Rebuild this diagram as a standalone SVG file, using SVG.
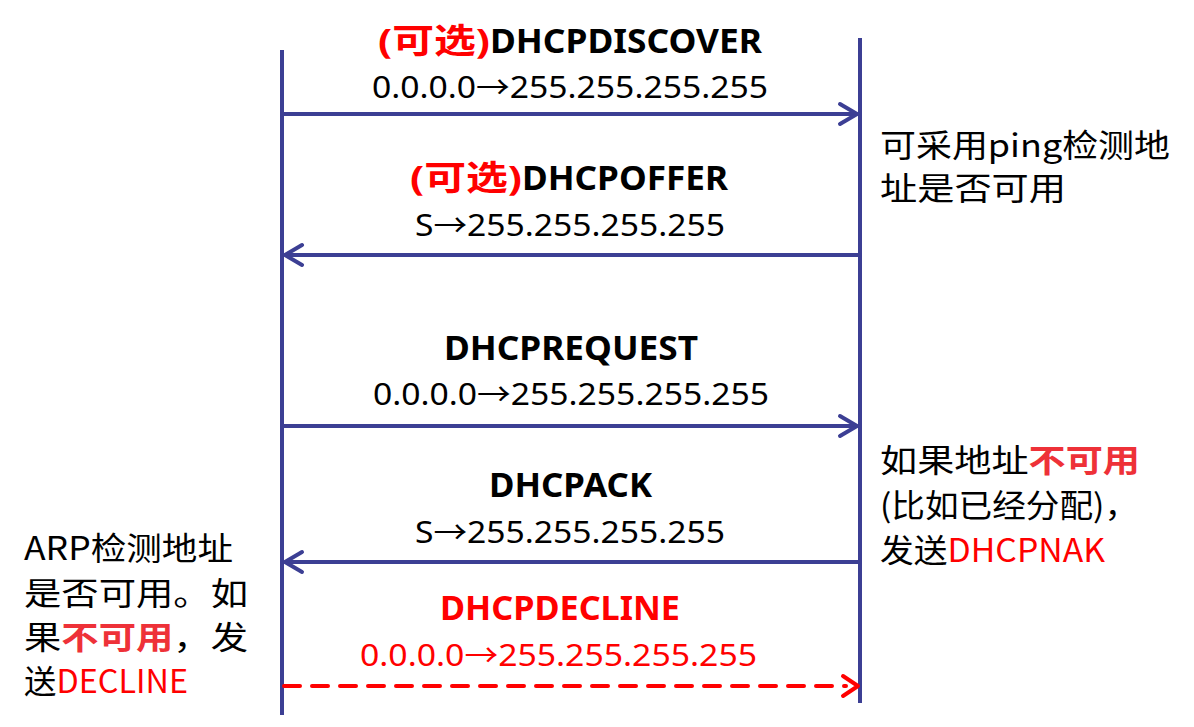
<svg xmlns="http://www.w3.org/2000/svg" width="1194" height="727" viewBox="0 0 1194 727">
<style>
.lbl{font-family:"Noto Sans","Noto Sans CJK SC",sans-serif;font-weight:bold;font-size:34px;fill:#000}
.addr{font-family:"Noto Sans","Noto Sans CJK SC",sans-serif;font-size:31px;fill:#000}
.note{font-family:"Noto Sans CJK SC","Noto Sans",sans-serif;font-size:32px;fill:#000}
.red{fill:#FF0000}
.red2{fill:#EE3138;font-weight:bold}
.life{stroke:#3C3F94;stroke-width:4;fill:none}
.msg{stroke:#3C3F94;stroke-width:4;fill:none;stroke-linecap:round;stroke-linejoin:round}
.dmsg{stroke:#FF0000;stroke-width:4;fill:none;stroke-linecap:round;stroke-linejoin:round}
</style>
<rect width="1194" height="727" fill="#fff"/>
<g id="lifelines">
<line class="life" x1="282" y1="50" x2="282" y2="715"/>
<line class="life" x1="860" y1="38" x2="860" y2="703"/>
</g>
<g id="connectors">
<line class="msg" x1="282" y1="114" x2="856" y2="114"/>
<polyline class="msg" points="840,104 857,114 840,124"/>
<line class="msg" x1="286" y1="255" x2="860" y2="255"/>
<polyline class="msg" points="302,245 285,255 302,265"/>
<line class="msg" x1="282" y1="426" x2="856" y2="426"/>
<polyline class="msg" points="840,416 857,426 840,436"/>
<line class="msg" x1="286" y1="562" x2="860" y2="562"/>
<polyline class="msg" points="302,552 285,562 302,572"/>
<line class="dmsg" x1="284" y1="686" x2="846" y2="686" stroke-dasharray="16 12" stroke-linecap="butt"/>
<polyline class="dmsg" points="843,676 858,686 843,696"/>
</g>
<g id="msg1">
<text class="lbl red" x="378" y="53" textLength="112" lengthAdjust="spacingAndGlyphs">(可选)</text>
<text class="lbl" x="490" y="53" textLength="272" lengthAdjust="spacingAndGlyphs">DHCPDISCOVER</text>
<text class="addr" x="372" y="98" textLength="396" lengthAdjust="spacingAndGlyphs">0.0.0.0→255.255.255.255</text>
</g>
<g id="msg2">
<text class="lbl red" x="410" y="190" textLength="112" lengthAdjust="spacingAndGlyphs">(可选)</text>
<text class="lbl" x="522" y="190" textLength="206" lengthAdjust="spacingAndGlyphs">DHCPOFFER</text>
<text class="addr" x="415" y="236" textLength="310" lengthAdjust="spacingAndGlyphs">S→255.255.255.255</text>
</g>
<g id="msg3">
<text class="lbl" x="444" y="360" textLength="254" lengthAdjust="spacingAndGlyphs">DHCPREQUEST</text>
<text class="addr" x="373" y="405" textLength="396" lengthAdjust="spacingAndGlyphs">0.0.0.0→255.255.255.255</text>
</g>
<g id="msg4">
<text class="lbl" x="489" y="497" textLength="163" lengthAdjust="spacingAndGlyphs">DHCPACK</text>
<text class="addr" x="415" y="543" textLength="310" lengthAdjust="spacingAndGlyphs">S→255.255.255.255</text>
</g>
<g id="msg5">
<text class="lbl red" x="440" y="620" textLength="240" lengthAdjust="spacingAndGlyphs">DHCPDECLINE</text>
<text class="addr red" x="360" y="666" textLength="397" lengthAdjust="spacingAndGlyphs">0.0.0.0→255.255.255.255</text>
</g>
<g id="note-ping">
<text class="note" x="880" y="157" textLength="290" lengthAdjust="spacingAndGlyphs">可采用ping检测地</text>
<text class="note" x="880" y="200" textLength="186" lengthAdjust="spacingAndGlyphs">址是否可用</text>
</g>
<g id="note-nak">
<text class="note" x="880" y="472" textLength="260" lengthAdjust="spacingAndGlyphs">如果地址<tspan class="red2">不可用</tspan></text>
<text class="note" x="880" y="517" textLength="258" lengthAdjust="spacingAndGlyphs">(比如已经分配)，</text>
<text class="note" x="880" y="562" textLength="225" lengthAdjust="spacingAndGlyphs">发送<tspan class="red">DHCPNAK</tspan></text>
</g>
<g id="note-arp">
<text class="note" x="24" y="560" textLength="209" lengthAdjust="spacingAndGlyphs">ARP检测地址</text>
<text class="note" x="24" y="605" textLength="224" lengthAdjust="spacingAndGlyphs">是否可用。如</text>
<text class="note" x="24" y="649" textLength="224" lengthAdjust="spacingAndGlyphs">果<tspan class="red2">不可用</tspan>，发</text>
<text class="note" x="24" y="693" textLength="164" lengthAdjust="spacingAndGlyphs">送<tspan class="red">DECLINE</tspan></text>
</g>
</svg>
